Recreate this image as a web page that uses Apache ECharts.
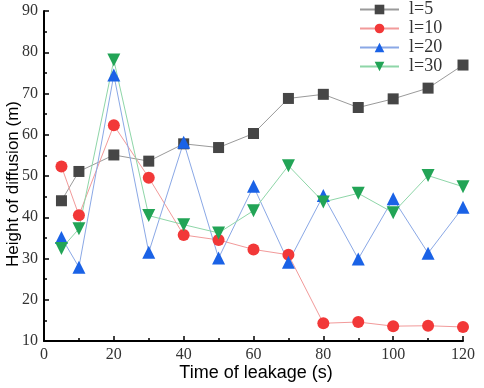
<!DOCTYPE html>
<html>
<head>
<meta charset="utf-8">
<script src="https://cdn.jsdelivr.net/npm/echarts@6/dist/echarts.min.js"></script>
<style>
  html, body { margin: 0; padding: 0; background: #fff; }
  #main { width: 484px; height: 388px; }
</style>
</head>
<body>
<div id="main"></div>
<script>
// leakage time (s)
const times = [5, 10, 20, 30, 40, 50, 60, 70, 80, 90, 100, 110, 120];
const seriesNames = ['l=5', 'l=10', 'l=20', 'l=30'];
// height of diffusion (m)
const l5  = [44.0, 51.1, 55.1, 53.6, 57.8, 56.9, 60.3, 68.8, 69.8, 66.6, 68.7, 71.3, 76.9];
const l10 = [52.3, 40.5, 62.3, 49.6, 35.7, 34.5, 32.2, 30.9, 14.3, 14.6, 13.6, 13.7, 13.4];
const l20 = [35.1, 27.9, 74.5, 31.5, 58.2, 30.1, 47.5, 29.1, 45.3, 29.9, 44.5, 31.3, 42.4];
const l30 = [32.4, 37.2, 78.1, 40.4, 38.2, 36.2, 41.6, 52.5, 43.7, 45.8, 41.1, 50.1, 47.4];

const chart = echarts.init(document.getElementById('main'));

function pairs(vals) {
  return times.map((t, i) => [t, vals[i]]);
}

function mkSeries(name, vals, symbol, size, markColor, lineColor, rotate) {
  return {
    name: name,
    type: 'line',
    data: pairs(vals),
    symbol: symbol,
    symbolSize: size,
    symbolRotate: rotate || 0,
    showAllSymbol: true,
    itemStyle: { color: markColor, opacity: 1 },
    lineStyle: { color: lineColor, width: 1 },
    emphasis: { disabled: true },
    z: 2
  };
}

const tickFont = { fontFamily: 'Liberation Serif', fontSize: 16, color: '#333' };

chart.setOption({
  animation: false,
  backgroundColor: '#fff',
  grid: { left: 44, right: 21, top: 11, bottom: 47, containLabel: false, outerBoundsMode: 'none' },
  legend: {
    orient: 'vertical',
    left: 359,
    top: 0,
    padding: 0,
    itemWidth: 39,
    itemHeight: 12,
    itemGap: 0,
    textStyle: { fontFamily: 'Liberation Serif', fontSize: 18, color: '#333', lineHeight: 19, padding: [0, 0, 0, 5] },
    data: seriesNames
  },
  xAxis: {
    type: 'value',
    min: 0, max: 120, interval: 20,
    name: 'Time of leakage (s)',
    nameLocation: 'middle',
    nameGap: 23,
    nameMoveOverlap: false,
    nameTextStyle: { fontFamily: 'Liberation Sans', fontSize: 18, color: '#000', padding: [0, 0, 0, 5] },
    axisLine: { show: true, onZero: false, lineStyle: { color: '#000', width: 2 } },
    axisTick: { show: true, inside: true, length: 5, lineStyle: { color: '#000', width: 1.5 } },
    minorTick: { show: true, splitNumber: 2, length: 3, lineStyle: { color: '#000', width: 1.5 } },
    axisLabel: Object.assign({ margin: 6 }, tickFont),
    splitLine: { show: false }
  },
  yAxis: {
    type: 'value',
    min: 10, max: 90, interval: 10,
    name: 'Height of diffusion (m)',
    nameLocation: 'middle',
    nameGap: 22,
    nameMoveOverlap: false,
    nameTextStyle: { fontFamily: 'Liberation Sans', fontSize: 17, color: '#000', padding: [0, 16, 0, 0] },
    axisLine: { show: true, onZero: false, lineStyle: { color: '#000', width: 2 } },
    axisTick: { show: true, inside: true, length: 5, lineStyle: { color: '#000', width: 1.5 } },
    minorTick: { show: true, splitNumber: 2, length: 3, lineStyle: { color: '#000', width: 1.5 } },
    axisLabel: Object.assign({ margin: 6 }, tickFont),
    splitLine: { show: false }
  },
  series: [
    mkSeries('l=5', l5, 'rect', 11, '#464646', '#9a9a9a'),
    mkSeries('l=10', l10, 'circle', 12, '#f23838', '#f29a9a'),
    mkSeries('l=20', l20, 'triangle', 13, '#1a62e6', '#8aa8e6'),
    mkSeries('l=30', l30, 'triangle', 13, '#22a456', '#8ed6a8', 180)
  ]
});
</script>
</body>
</html>
